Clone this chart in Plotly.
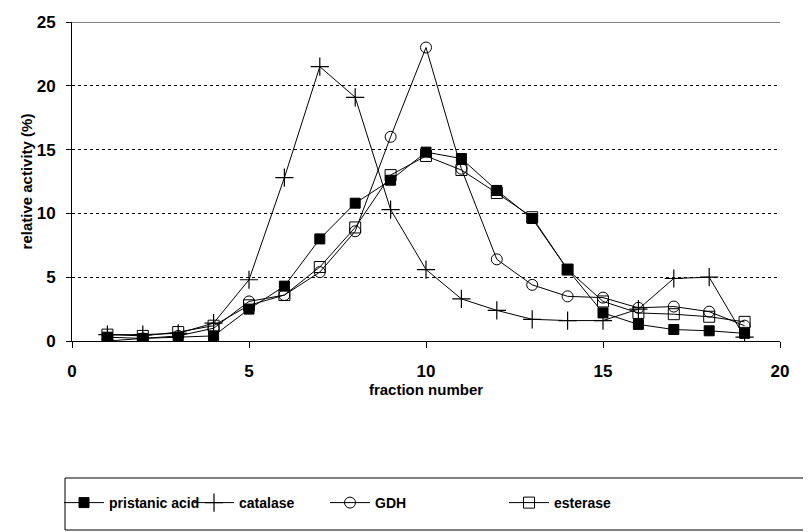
import plotly.graph_objects as go

fractions = list(range(1, 20))
pristanic_acid = [0.3, 0.2, 0.3, 0.4, 2.5, 4.3, 8.0, 10.8, 12.6, 14.8, 14.3, 11.8, 9.6, 5.6, 2.2, 1.3, 0.9, 0.8, 0.6]
catalase = [0.5, 0.5, 0.6, 1.4, 4.8, 12.8, 21.5, 19.1, 10.3, 5.6, 3.3, 2.4, 1.7, 1.6, 1.6, 2.5, 4.9, 5.0, 0.3]
gdh = [0.0, 0.2, 0.4, 1.0, 3.1, 3.6, 5.4, 8.6, 16.0, 23.0, 13.5, 6.4, 4.4, 3.5, 3.4, 2.6, 2.7, 2.3, 1.2]
esterase = [0.5, 0.4, 0.7, 1.2, 2.8, 3.6, 5.8, 8.9, 13.0, 14.5, 13.4, 11.6, 9.7, 5.6, 3.1, 2.2, 2.1, 1.9, 1.5]

x_ticks = [0, 5, 10, 15, 20]
y_ticks = [0, 5, 10, 15, 20, 25]

FONT = "Liberation Sans, Arial"

# the page body has an 8px margin; figure is sized so it fills the 811x532 window
OFF = 8
W, H = 811 - OFF, 532 - OFF
L, T = 72 - OFF, 22 - OFF
PW, PH = 708, 319
R = W - L - PW
B = H - T - PH


def px_x(p):
    return (p - OFF - L) / PW


def px_y(p):
    return (H - B - (p - OFF)) / PH


series = [
    ("pristanic acid", pristanic_acid, dict(symbol="square", size=10, color="black", line=dict(color="black", width=1))),
    ("catalase", catalase, dict(symbol="cross-thin", size=13, color="black", line=dict(color="black", width=1.2))),
    ("GDH", gdh, dict(symbol="circle-open", size=11, color="black", line=dict(color="black", width=1))),
    ("esterase", esterase, dict(symbol="square-open", size=11, color="black", line=dict(color="black", width=1))),
]
legend_ids = ["legend", "legend2", "legend3", "legend4"]
legend_starts = [59, 189, 325, 504]

fig = go.Figure()
for (name, vals, mk), lid in zip(series, legend_ids):
    fig.add_trace(go.Scatter(x=fractions, y=vals, name=name, mode="lines+markers",
                             line=dict(color="black", width=1), marker=mk, legend=lid))

fig.add_shape(type="line", xref="paper", yref="y", x0=0, x1=1, y0=25, y1=25,
              line=dict(color="black", width=1.2))
fig.add_shape(type="rect", xref="paper", yref="paper",
              x0=px_x(65), x1=px_x(818), y0=px_y(478), y1=px_y(530),
              line=dict(color="black", width=1), fillcolor="rgba(0,0,0,0)")

legend_layout = {}
for lid, sx in zip(legend_ids, legend_starts):
    legend_layout[lid] = dict(orientation="h", x=px_x(sx), y=px_y(503), xanchor="left", yanchor="middle",
                              bgcolor="rgba(0,0,0,0)", borderwidth=0, itemwidth=40,
                              font=dict(family=FONT, size=14, weight="bold", color="black"))

fig.update_layout(
    width=W, height=H,
    margin=dict(l=L, r=R, t=T, b=B),
    paper_bgcolor="white", plot_bgcolor="white",
    font=dict(family=FONT, color="black", size=15, weight="bold"),
    showlegend=True,
    xaxis=dict(range=[0, 20], tickvals=x_ticks, ticktext=[str(v) for v in x_ticks], automargin=False,
               showgrid=False, zeroline=False, showline=True, linecolor="black", linewidth=1,
               ticks="outside", ticklen=6, tickcolor="black", ticklabelstandoff=9,
               tickfont=dict(family=FONT, size=17, weight="bold"),
               title=dict(text="fraction number", font=dict(family=FONT, size=15, weight="bold"), standoff=0)),
    yaxis=dict(range=[0, 25], tickvals=y_ticks, ticktext=[str(v) for v in y_ticks], automargin=False,
               showgrid=True, gridcolor="black", gridwidth=0.6, griddash="dot",
               zeroline=False, showline=True, linecolor="black", linewidth=1,
               ticks="outside", ticklen=5, tickcolor="black", ticklabelstandoff=7,
               tickfont=dict(family=FONT, size=17, weight="bold"),
               title=dict(text="relative activity (%)", font=dict(family=FONT, size=15, weight="bold"), standoff=0)),
    **legend_layout,
)

fig.write_html("out.html")
